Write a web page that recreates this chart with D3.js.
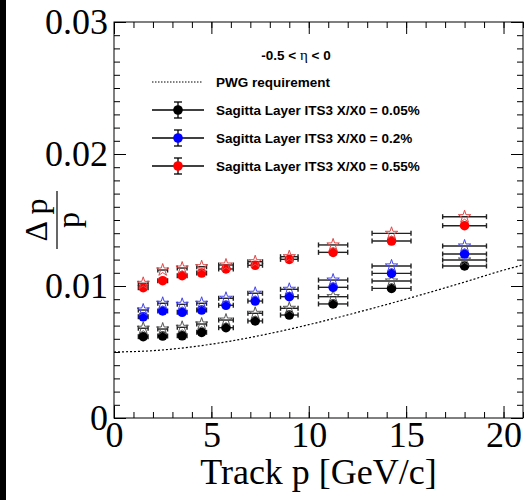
<!DOCTYPE html>
<html>
<head>
<meta charset="utf-8">
<script src="https://cdn.jsdelivr.net/npm/d3@7"></script>
<style>
body { margin: 0; background: #fff; }
.tick text { font-family: "Liberation Serif", "Times New Roman", serif; font-size: 36px; fill: #000; }
.legend text { font-family: "Liberation Sans", Arial, sans-serif; font-weight: bold; font-size: 13.5px; }
</style>
</head>
<body>
<div id="container"></div>
<script>
/* data */
var trackP = [1.5, 2.5, 3.5, 4.5, 5.75, 7.25, 9, 11.25, 14.25, 18];
var trackPErr = [0.25, 0.25, 0.25, 0.25, 0.375, 0.375, 0.45, 0.75, 1.0, 1.125];

var res005 = [0.00616, 0.00621, 0.00623, 0.00649, 0.00684, 0.00735, 0.0078, 0.00864, 0.00982, 0.01152];
var res005Star = [0.0068, 0.00674, 0.00687, 0.00712, 0.00742, 0.00793, 0.00831, 0.00919, 0.01038, 0.01197];
var res02 = [0.00767, 0.00811, 0.00801, 0.00818, 0.00854, 0.00886, 0.00919, 0.0099, 0.01096, 0.01242];
var res02Star = [0.00818, 0.00869, 0.00861, 0.00869, 0.00907, 0.00945, 0.00975, 0.01045, 0.01152, 0.01303];
var res055 = [0.00987, 0.0104, 0.01078, 0.01098, 0.01129, 0.01157, 0.01202, 0.01255, 0.01341, 0.01457];
var res055Star = [0.0102, 0.01121, 0.01136, 0.01146, 0.01159, 0.01184, 0.01222, 0.01311, 0.01399, 0.01525];

var pwgP = [0, 2, 4, 6, 8, 10, 12, 14, 16, 18, 20, 21];
var pwgRes = [0.0050, 0.0051, 0.00539, 0.00583, 0.0064, 0.00707, 0.00781, 0.0086, 0.00943, 0.0103, 0.0112, 0.0116];

var legendLabels = ["Sagitta Layer ITS3 X/X0 = 0.05%", "Sagitta Layer ITS3 X/X0 = 0.2%", "Sagitta Layer ITS3 X/X0 = 0.55%"];
var xTickLabels = [0, 5, 10, 15, 20];
var yTickLabels = [0, 0.01, 0.02, 0.03];

var series = [
  { label: legendLabels[0], color: "#000000", starColor: "#555555", circles: res005, stars: res005Star },
  { label: legendLabels[1], color: "#0000ff", starColor: "#4444ee", circles: res02, stars: res02Star },
  { label: legendLabels[2], color: "#ff0000", starColor: "#e04848", circles: res055, stars: res055Star }
];

/* setup the dimensions */
var W = 532, H = 500;
var frame = { left: 114, top: 22, right: 523, bottom: 418 };

var x = d3.scaleLinear().domain([0, 21]).range([frame.left, frame.right]);
var y = d3.scaleLinear().domain([0, 0.03]).range([frame.bottom, frame.top]);

var svg = d3.select("#container")
            .append("svg")
            .attr("width", W)
            .attr("height", H);

svg.append("rect").attr("width", W).attr("height", H).attr("fill", "#fff");
// dark strip at the left edge
svg.append("rect").attr("x", 0).attr("y", 0).attr("width", 6).attr("height", H).attr("fill", "#000");

/* axes: major + minor ticks on all four sides, pointing inward */
var xMinor = d3.range(0, 21.01, 1);
var yMinor = d3.range(0, 0.03001, 0.001);

function strip(g) { g.select(".domain").remove(); g.selectAll("line").attr("stroke", "#000"); }

svg.append("g").attr("transform", "translate(0," + frame.bottom + ")")
   .call(d3.axisBottom(x).tickValues(xTickLabels).tickSize(-12).tickPadding(3).tickFormat(d3.format("d")))
   .call(strip);
svg.append("g").attr("transform", "translate(0," + frame.bottom + ")")
   .call(d3.axisBottom(x).tickValues(xMinor).tickSize(-6).tickFormat(""))
   .call(strip);
svg.append("g").attr("transform", "translate(0," + frame.top + ")")
   .call(d3.axisTop(x).tickValues(xTickLabels).tickSize(-12).tickFormat(""))
   .call(strip);
svg.append("g").attr("transform", "translate(0," + frame.top + ")")
   .call(d3.axisTop(x).tickValues(xMinor).tickSize(-6).tickFormat(""))
   .call(strip);

svg.append("g").attr("transform", "translate(" + frame.left + ",0)")
   .call(d3.axisLeft(y).tickValues(yTickLabels).tickSize(-12).tickPadding(6)
          .tickFormat(function(d) { return d === 0 ? "0" : d3.format(".2f")(d); }))
   .call(strip);
svg.append("g").attr("transform", "translate(" + frame.left + ",0)")
   .call(d3.axisLeft(y).tickValues(yMinor).tickSize(-6).tickFormat(""))
   .call(strip);
svg.append("g").attr("transform", "translate(" + frame.right + ",0)")
   .call(d3.axisRight(y).tickValues(yTickLabels).tickSize(-12).tickFormat(""))
   .call(strip);
svg.append("g").attr("transform", "translate(" + frame.right + ",0)")
   .call(d3.axisRight(y).tickValues(yMinor).tickSize(-6).tickFormat(""))
   .call(strip);

svg.append("rect")
   .attr("x", frame.left).attr("y", frame.top)
   .attr("width", frame.right - frame.left).attr("height", frame.bottom - frame.top)
   .attr("fill", "none").attr("stroke", "#000").attr("stroke-width", 1);

/* axis titles */
svg.append("text")
   .attr("x", (frame.left + frame.right) / 2).attr("y", 484)
   .attr("text-anchor", "middle")
   .style("font-family", "'Liberation Serif', 'Times New Roman', serif")
   .style("font-size", "36px")
   .text("Track p [GeV/c]");

var yt = svg.append("g").attr("transform", "translate(57,220) rotate(-90)")
            .style("font-family", "'Liberation Serif', 'Times New Roman', serif")
            .style("font-size", "32px");
yt.append("text").attr("x", 0).attr("y", -10).attr("text-anchor", "middle").text("\u0394 p");
yt.append("line").attr("x1", -29).attr("x2", 29).attr("y1", 0).attr("y2", 0)
  .attr("stroke", "#000").attr("stroke-width", 1.2);
yt.append("text").attr("x", 0).attr("y", 22).attr("text-anchor", "middle").text("p");

/* PWG requirement */
var line = d3.line().x(function(d) { return x(d[0]); }).y(function(d) { return y(d[1]); }).curve(d3.curveMonotoneX);
svg.append("clipPath").attr("id", "frameclip").append("rect")
   .attr("x", frame.left).attr("y", frame.top)
   .attr("width", frame.right - frame.left).attr("height", frame.bottom - frame.top);
svg.append("path")
   .datum(d3.zip(pwgP, pwgRes))
   .attr("clip-path", "url(#frameclip)")
   .attr("d", line)
   .attr("fill", "none").attr("stroke", "#000").attr("stroke-width", 1.2)
   .attr("stroke-dasharray", "2,2");

/* graphs */
var star = d3.symbol().type(d3.symbolStar).size(48);
var cap = 2.5;

function drawBars(g, vals) {
  vals.forEach(function(v, i) {
    var x0 = x(trackP[i] - trackPErr[i]), x1 = x(trackP[i] + trackPErr[i]), yy = y(v);
    g.append("line").attr("x1", x0).attr("x2", x1).attr("y1", yy).attr("y2", yy);
    g.append("line").attr("x1", x0).attr("x2", x0).attr("y1", yy - cap).attr("y2", yy + cap);
    g.append("line").attr("x1", x1).attr("x2", x1).attr("y1", yy - cap).attr("y2", yy + cap);
  });
}

series.forEach(function(s) {
  var g = svg.append("g").attr("stroke", "#222").attr("stroke-width", 1.4);
  drawBars(g, s.stars);
  drawBars(g, s.circles);

  svg.append("g").selectAll("circle")
     .data(s.circles)
     .enter().append("circle")
       .attr("cx", function(d, i) { return x(trackP[i]); })
       .attr("cy", function(d) { return y(d); })
       .attr("r", 4.8)
       .attr("fill", s.color);

  svg.append("g").selectAll("path")
     .data(s.stars)
     .enter().append("path")
       .attr("d", star)
       .attr("transform", function(d, i) { return "translate(" + x(trackP[i]) + "," + y(d) + ")"; })
       .attr("fill", "none")
       .attr("stroke", s.starColor)
       .attr("stroke-width", 1);
});

/* legend */
var leg = svg.append("g").attr("class", "legend");
var eta = leg.append("text").attr("x", 296).attr("y", 60).attr("text-anchor", "middle");
eta.append("tspan").text("-0.5 < ");
eta.append("tspan").style("font-family", "'Liberation Serif', serif").style("font-weight", "normal").style("font-size", "15px").text("\u03b7");
eta.append("tspan").text(" < 0");

leg.append("line").attr("x1", 152).attr("x2", 203).attr("y1", 82).attr("y2", 82)
   .attr("stroke", "#000").attr("stroke-width", 1).attr("stroke-dasharray", "1.5,1.5");
leg.append("text").attr("x", 216).attr("y", 86.5).text("PWG requirement");

series.forEach(function(s, i) {
  var yy = 110 + i * 28;
  var e = leg.append("g").attr("stroke", "#000").attr("stroke-width", 1.3);
  e.append("line").attr("x1", 152).attr("x2", 204).attr("y1", yy).attr("y2", yy);
  e.append("line").attr("x1", 178).attr("x2", 178).attr("y1", yy - 8).attr("y2", yy + 8);
  e.append("line").attr("x1", 174).attr("x2", 182).attr("y1", yy - 8).attr("y2", yy - 8);
  e.append("line").attr("x1", 174).attr("x2", 182).attr("y1", yy + 8).attr("y2", yy + 8);
  leg.append("circle").attr("cx", 178).attr("cy", yy).attr("r", 4.8).attr("fill", s.color);
  leg.append("text").attr("x", 216).attr("y", yy + 4.5).text(s.label);
});
</script>
</body>
</html>
